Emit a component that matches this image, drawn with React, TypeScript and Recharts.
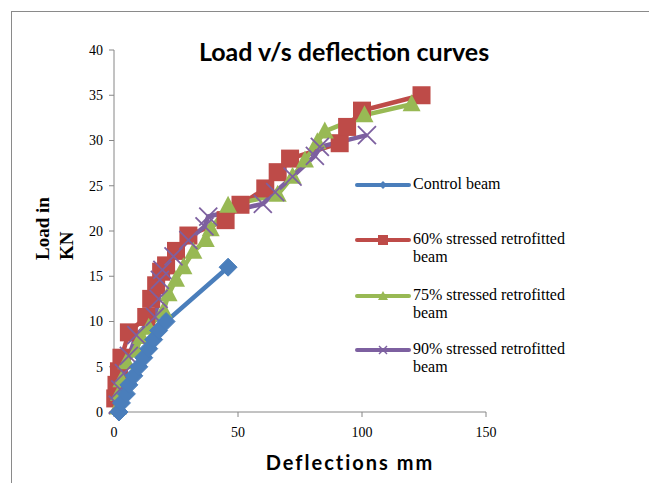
import React from "react";
import { LineChart, Line, XAxis, YAxis } from "recharts";

// deflection (mm) vs load (kN)
const controlBeam = [
  { x: 2, y: 0 }, { x: 3, y: 1 }, { x: 5, y: 2 }, { x: 6, y: 3 }, { x: 8, y: 4 },
  { x: 10, y: 5 }, { x: 12, y: 6 }, { x: 14, y: 7 }, { x: 16, y: 8 }, { x: 18, y: 9 },
  { x: 21, y: 10 }, { x: 46, y: 16 },
];

const stressed60 = [
  { x: 0.5, y: 1.5 }, { x: 1, y: 3 }, { x: 2, y: 4.5 }, { x: 3, y: 6 }, { x: 6, y: 8.8 },
  { x: 13, y: 10.5 }, { x: 15, y: 12.5 }, { x: 17, y: 14 }, { x: 19, y: 15.5 }, { x: 21, y: 16.2 },
  { x: 25, y: 17.8 }, { x: 30, y: 19.5 }, { x: 45, y: 21.2 }, { x: 51, y: 22.9 }, { x: 61, y: 24.7 },
  { x: 66, y: 26.5 }, { x: 71, y: 28 }, { x: 91, y: 29.7 }, { x: 94, y: 31.5 }, { x: 100, y: 33.3 },
  { x: 124, y: 35 },
];

const stressed75 = [
  { x: 1.5, y: 0.5 }, { x: 2, y: 2 }, { x: 3, y: 3.5 }, { x: 5, y: 5.5 }, { x: 9, y: 6.8 },
  { x: 11, y: 8.3 }, { x: 14, y: 9.3 }, { x: 20, y: 11.2 }, { x: 22, y: 13 }, { x: 25, y: 14.6 },
  { x: 28, y: 16 }, { x: 32, y: 17.7 }, { x: 37, y: 19 }, { x: 39, y: 20.2 }, { x: 46, y: 22.8 },
  { x: 66, y: 24 }, { x: 72, y: 26 }, { x: 77, y: 27.8 }, { x: 82, y: 29.8 }, { x: 85, y: 31 },
  { x: 101, y: 32.8 }, { x: 120, y: 34 },
];

const stressed90 = [
  { x: 1.5, y: 0.8 }, { x: 2.5, y: 2.5 }, { x: 4, y: 4.3 }, { x: 6, y: 6.2 }, { x: 9, y: 8.5 },
  { x: 16.5, y: 10.5 }, { x: 18, y: 12.5 }, { x: 18.5, y: 14.6 }, { x: 19.5, y: 15.7 }, { x: 24, y: 17.2 },
  { x: 30, y: 19 }, { x: 36.5, y: 20.5 }, { x: 38, y: 21.6 }, { x: 60, y: 23 }, { x: 65, y: 24.3 },
  { x: 72, y: 26 }, { x: 81, y: 28.3 }, { x: 83, y: 29.3 }, { x: 102, y: 30.6 },
];

const xTicks = [0, 50, 100, 150];
const yTicks = [0, 5, 10, 15, 20, 25, 30, 35, 40];

const BLUE = "#4a7ebb";
const RED = "#be4b48";
const GREEN = "#98b954";
const PURPLE = "#7d60a0";
const AXIS = "#868686";

const diamond = (p: any) => {
  const { cx, cy, index } = p;
  return (
    <polygon key={`d${index}`} points={`${cx},${cy - 9} ${cx + 9},${cy} ${cx},${cy + 9} ${cx - 9},${cy}`}
      fill={BLUE} stroke={BLUE} strokeWidth={1} strokeLinejoin="round" />
  );
};
const square = (p: any) => {
  const { cx, cy, index } = p;
  return <rect key={`s${index}`} x={cx - 9} y={cy - 9} width={18} height={18} fill={RED} />;
};
const triangle = (p: any) => {
  const { cx, cy, index } = p;
  return <polygon key={`t${index}`} points={`${cx},${cy - 10} ${cx + 9},${cy + 7} ${cx - 9},${cy + 7}`} fill={GREEN} />;
};
const cross = (p: any) => {
  const { cx, cy, index } = p;
  return (
    <g key={`x${index}`} stroke={PURPLE} strokeWidth={1.8}>
      <line x1={cx - 9} y1={cy - 9} x2={cx + 9} y2={cy + 9} />
      <line x1={cx - 9} y1={cy + 9} x2={cx + 9} y2={cy - 9} />
    </g>
  );
};

const legendRows = [
  { name: "Control beam", second: "", color: BLUE, mark: "diamond", top: 0 },
  { name: "60% stressed retrofitted", second: "beam", color: RED, mark: "square", top: 55 },
  { name: "75% stressed retrofitted", second: "beam", color: GREEN, mark: "triangle", top: 111 },
  { name: "90% stressed retrofitted", second: "beam", color: PURPLE, mark: "cross", top: 165 },
];

function LegendMark({ mark, color }: { mark: string; color: string }) {
  if (mark === "diamond") return <polygon points="28,2 32,6 28,10 24,6" fill={color} />;
  if (mark === "square") return <rect x={23} y={1} width={10} height={10} fill={color} />;
  if (mark === "triangle") return <polygon points="28,1 33,10 23,10" fill={color} />;
  return (
    <g stroke={color} strokeWidth={1.5}>
      <line x1={24} y1={2} x2={32} y2={10} />
      <line x1={24} y1={10} x2={32} y2={2} />
    </g>
  );
}

function LegendBox() {
  return (
    <div style={{ position: "absolute", left: 355, top: 176, width: 240, height: 210, fontFamily: "'Liberation Serif', serif", fontSize: 16, color: "#000" }}>
      {legendRows.map((r) => (
        <div key={r.name} style={{ position: "absolute", left: 0, top: r.top }}>
          <svg width={56} height={12} style={{ position: "absolute", left: 0, top: 3 }}>
            <line x1={2} y1={6} x2={54} y2={6} stroke={r.color} strokeWidth={4} strokeLinecap="round" />
            <LegendMark mark={r.mark} color={r.color} />
          </svg>
          <div style={{ position: "absolute", left: 58, top: -1, lineHeight: "18px", whiteSpace: "nowrap" }}>
            {r.name}
            {r.second && <br />}
            {r.second}
          </div>
        </div>
      ))}
    </div>
  );
}

export default function App() {
  return (
    <div style={{ position: "absolute", left: 0, top: 0, width: 649, height: 483, overflow: "hidden", background: "#fff" }}>
      <div style={{ position: "absolute", left: 11, top: 11, width: 800, height: 600, border: "1px solid #8a8a8a" }} />
      <LineChart width={649} height={483} margin={{ top: 50, right: 163, bottom: 41, left: 54 }} style={{ position: "absolute", left: 0, top: 0 }}>
        <XAxis type="number" dataKey="x" domain={[0, 150]} ticks={xTicks} height={30}
          axisLine={{ stroke: AXIS }} tickLine={{ stroke: AXIS }} tickSize={5} tickMargin={10}
          tick={{ fill: "#000", fontFamily: "'Liberation Serif', serif", fontSize: 14 }} />
        <YAxis type="number" dataKey="y" domain={[0, 40]} ticks={yTicks} width={60}
          axisLine={{ stroke: AXIS }} tickLine={{ stroke: AXIS }} tickSize={5} tickMargin={6}
          tick={{ fill: "#000", fontFamily: "'Liberation Serif', serif", fontSize: 14 }} />
        <Line data={stressed60} dataKey="y" stroke={RED} strokeWidth={4.5} dot={square} activeDot={false} isAnimationActive={false} />
        <Line data={stressed75} dataKey="y" stroke={GREEN} strokeWidth={4.5} dot={triangle} activeDot={false} isAnimationActive={false} />
        <Line data={stressed90} dataKey="y" stroke={PURPLE} strokeWidth={4.5} dot={cross} activeDot={false} isAnimationActive={false} />
        <Line data={controlBeam} dataKey="y" stroke={BLUE} strokeWidth={4.5} dot={diamond} activeDot={false} isAnimationActive={false} />
      </LineChart>
      <LegendBox />
      <svg width={649} height={483} style={{ position: "absolute", left: 0, top: 0, pointerEvents: "none" }}>
        <text x={344} y={61} textAnchor="middle" fontFamily="Lato, sans-serif" fontWeight="bold" fontSize={25} fill="#000">
          Load v/s deflection curves
        </text>
        <text x={350} y={470} textAnchor="middle" fontFamily="Lato, sans-serif" fontWeight="bold" fontSize={20} letterSpacing={2} fill="#000">
          Deflections mm
        </text>
        <text transform="translate(49,260) rotate(-90)" fontFamily="'Liberation Serif', serif" fontWeight="bold" fontSize={19} fill="#000">
          Load in
        </text>
        <text transform="translate(73,260) rotate(-90)" fontFamily="'Liberation Serif', serif" fontWeight="bold" fontSize={19} fill="#000">
          KN
        </text>
      </svg>
    </div>
  );
}
